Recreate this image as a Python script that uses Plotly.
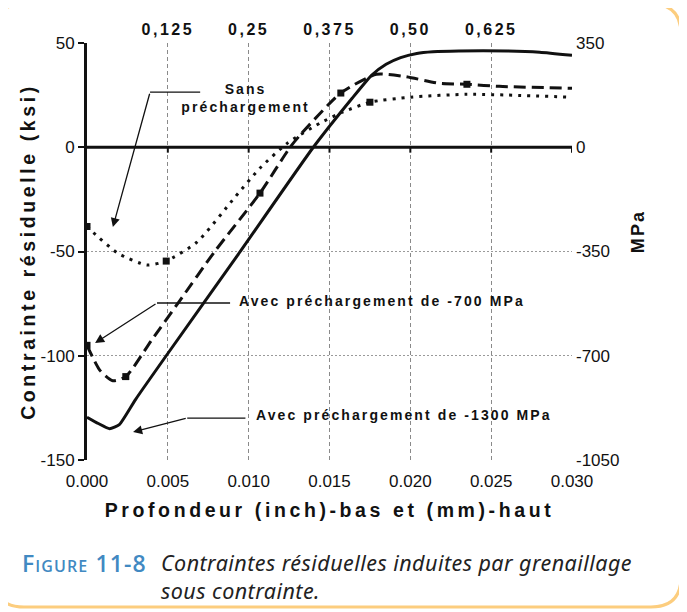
import plotly.graph_objects as go

# ---------------- data ----------------
x_ticks = [0.000, 0.005, 0.010, 0.015, 0.020, 0.025, 0.030]
x_tick_text = ["0.000", "0.005", "0.010", "0.015", "0.020", "0.025", "0.030"]
top_tick_vals = [0.005, 0.010, 0.015, 0.020, 0.025]
top_tick_text = ["0,125", "0,25", "0,375", "0,50", "0,625"]
ksi_ticks = [50, 0, -50, -100, -150]
ksi_tick_text = ["50", "0", "-50", "-100", "-150"]
mpa_tick_text = ["350", "0", "-350", "-700", "-1050"]

# Sans préchargement (dotted)
sans_x = [0.0, 0.0004, 0.0019, 0.0037, 0.0049, 0.0068, 0.0092, 0.0107, 0.0124,
          0.0144, 0.0158, 0.0175, 0.0200, 0.0235, 0.0300]
sans_y = [-38, -41, -50.8, -56.5, -54.6, -45.5, -23.5, -10, 2,
          11.5, 16.8, 21.6, 24, 25.4, 24]
sans_mark_x = [0.0, 0.0049, 0.0175]
sans_mark_y = [-38, -54.6, 21.6]

# Avec préchargement de -700 MPa (dashed)
p700_x = [0.0, 0.0008, 0.0016, 0.0024, 0.0040, 0.0057, 0.0079, 0.0107, 0.01256,
          0.0132, 0.0157, 0.0179, 0.0196, 0.0218, 0.0235, 0.0255, 0.0300]
p700_y = [-95, -107, -112, -110, -92.5, -74, -50, -22, 0,
          6, 26, 35, 34, 30.7, 30.2, 29.2, 28.3]
p700_mark_x = [0.0, 0.0024, 0.0107, 0.0157, 0.0235]
p700_mark_y = [-95, -110, -22, 26, 30.2]

# Avec préchargement de -1300 MPa (solid)
p1300_x = [0.0, 0.0007, 0.0014, 0.0020, 0.0030, 0.0049, 0.0093, 0.0140,
           0.0164, 0.0176, 0.0185, 0.0194, 0.0204, 0.0214, 0.0230, 0.0260, 0.0280, 0.0300]
p1300_y = [-129.5, -132.5, -135, -133, -121, -100, -52, 0,
           23.5, 34.5, 39.8, 43, 45, 45.8, 46.2, 46.2, 45.6, 44.1]

# ---------------- layout geometry ----------------
OFF = 8  # default page margin of the html body
W, H = 687 - OFF, 612 - OFF
ML, MT = 87 - OFF, 43 - OFF
PW, PH = 485, 417
MR, MB = W - ML - PW, H - MT - PH


def px(xp):
    """reference pixel x -> paper x"""
    return (xp - OFF - ML) / PW


def py(yp):
    """reference pixel y -> paper y"""
    return (MT + PH - (yp - OFF)) / PH


ARIAL = "Liberation Sans"
TICK_FONT = dict(family=ARIAL, size=17, color="#111")
TITLE_FONT = dict(family=ARIAL, size=19.5, color="#111", weight="bold")

fig = go.Figure()

fig.add_trace(go.Scatter(x=sans_x, y=sans_y, mode="lines",
                         line=dict(color="#111", width=3, dash="3px,6px", shape="spline", smoothing=0.6),
                         showlegend=False, hoverinfo="skip"))
fig.add_trace(go.Scatter(x=sans_mark_x, y=sans_mark_y, mode="markers",
                         marker=dict(symbol="square", size=7, color="#111"),
                         showlegend=False, hoverinfo="skip"))
fig.add_trace(go.Scatter(x=p700_x, y=p700_y, mode="lines",
                         line=dict(color="#111", width=3, dash="12px,6px", shape="spline", smoothing=0.6),
                         showlegend=False, hoverinfo="skip"))
fig.add_trace(go.Scatter(x=p700_mark_x, y=p700_mark_y, mode="markers",
                         marker=dict(symbol="square", size=7, color="#111"),
                         showlegend=False, hoverinfo="skip"))
fig.add_trace(go.Scatter(x=p1300_x, y=p1300_y, mode="lines",
                         line=dict(color="#111", width=3, shape="spline", smoothing=0.5),
                         showlegend=False, hoverinfo="skip"))
# invisible trace so the secondary (top / right) axes are drawn
fig.add_trace(go.Scatter(x=[x_ticks[0]], y=[ksi_ticks[0]], xaxis="x2", yaxis="y2",
                         mode="markers", marker=dict(opacity=0), showlegend=False, hoverinfo="skip"))

xr = [x_ticks[0], x_ticks[-1]]
yr = [ksi_ticks[-1], ksi_ticks[0]]

fig.update_layout(
    width=W, height=H,
    margin=dict(l=ML, r=MR, t=MT, b=MB, autoexpand=False),
    paper_bgcolor="white", plot_bgcolor="white",
    xaxis=dict(range=xr, tickvals=x_ticks, ticktext=x_tick_text,
               showgrid=True, gridcolor="#8a8a8a", griddash="4px,3px", gridwidth=1,
               showline=False, zeroline=False, ticks="", tickfont=TICK_FONT, ticklabelstandoff=9,
               title=dict(text="Profondeur (inch)-bas et (mm)-haut", font=TITLE_FONT, standoff=13),
               automargin=False),
    xaxis2=dict(range=xr, overlaying="x", side="top", anchor="y", tickvals=top_tick_vals,
                ticktext=top_tick_text, showgrid=False, showline=False, zeroline=False, ticks="",
                tickfont=dict(family=ARIAL, size=16, color="#111", weight="bold"), ticklabelstandoff=4,
                automargin=False),
    yaxis=dict(range=yr, tickvals=ksi_ticks, ticktext=ksi_tick_text, showgrid=True,
               gridcolor="#9a9a9a", griddash="2px,2px", gridwidth=1, showline=True,
               linecolor="#111", linewidth=3, ticks="outside", ticklen=6, tickwidth=2,
               tickcolor="#111", zeroline=False, tickfont=TICK_FONT,
               title=dict(text="Contrainte résiduelle (ksi)", font=TITLE_FONT, standoff=0),
               automargin=False),
    yaxis2=dict(range=yr, overlaying="y", side="right", anchor="x", tickvals=ksi_ticks,
                ticktext=mpa_tick_text, showgrid=False, showline=False, zeroline=False, ticks="",
                tickfont=TICK_FONT, ticklabelstandoff=3, automargin=False),
)

shapes = []
# thick zero line with downward ticks at each gridline
shapes.append(dict(type="line", xref="x", yref="y", x0=xr[0], x1=xr[1], y0=0, y1=0,
                   line=dict(color="#111", width=3)))
for v in x_ticks[1:]:
    shapes.append(dict(type="line", xref="x", yref="y", x0=v, x1=v, y0=0, y1=-2.6,
                       line=dict(color="#111", width=2)))

# leader lines (horizontal part)
leaders = [((0.0039, 26.4), (0.0070, 26.4)),
           ((0.00433, -74.7), (0.00885, -74.7)),
           ((0.0062, -129.9), (0.0098, -129.9))]
for (a, b) in leaders:
    shapes.append(dict(type="line", xref="x", yref="y", x0=a[0], y0=a[1], x1=b[0], y1=b[1],
                       line=dict(color="#111", width=1.3)))

# rounded orange frame
L, R, T, B, r = -6, 681, 4, 607, 30


def P(a, b):
    return f"{px(a):.5f},{py(b):.5f}"


path = (f"M {P(L+r, T)} L {P(R-r, T)} Q {P(R, T)} {P(R, T+r)} L {P(R, B-r)} "
        f"Q {P(R, B)} {P(R-r, B)} L {P(L+r, B)} Q {P(L, B)} {P(L, B-r)} L {P(L, T+r)} "
        f"Q {P(L, T)} {P(L+r, T)} Z")
shapes.append(dict(type="path", xref="paper", yref="paper", path=path,
                   line=dict(color="#FCCD7E", width=3), fillcolor="rgba(0,0,0,0)"))
fig.update_layout(shapes=shapes)

ann = []
arrows = [((0.0016, -38.3), (0.0039, 26.4)),
          ((0.0005, -93.9), (0.00433, -74.7)),
          ((0.00285, -136.6), (0.0062, -129.9))]
for tip, tail in arrows:
    ann.append(dict(x=tip[0], y=tip[1], ax=tail[0], ay=tail[1], xref="x", yref="y",
                    axref="x", ayref="y", text="", showarrow=True, arrowhead=2,
                    arrowsize=1.4, arrowwidth=1.3, arrowcolor="#111", standoff=0))
lab_font = dict(family=ARIAL, size=14, color="#111", weight="bold")
ann.append(dict(x=0.0098, y=23.8, xref="x", yref="y", text="Sans<br>préchargement",
                showarrow=False, font=lab_font, align="center"))
ann.append(dict(x=0.00928, y=-73.5, xref="x", yref="y", xanchor="left", align="left",
                text="Avec préchargement de -700 MPa", showarrow=False, font=lab_font))
ann.append(dict(x=0.0103, y=-128.3, xref="x", yref="y", xanchor="left", align="left",
                text="Avec préchargement de -1300 MPa", showarrow=False, font=lab_font))
# right axis title (sits above the axis middle in the reference)
ann.append(dict(x=px(650), y=py(231), xref="paper", yref="paper", text="MPa", textangle=-90,
                showarrow=False, font=dict(family=ARIAL, size=18, color="#111", weight="bold")))
# caption
ann.append(dict(x=px(20), y=py(563), xref="paper", yref="paper", xanchor="left", yanchor="middle",
                align="left", text="Figure 11-8", showarrow=False,
                font=dict(family="Open Sans", size=23, color="#4189C2",
                          weight=600, variant="small-caps")))
ann.append(dict(x=px(159), y=py(576), xref="paper", yref="paper", xanchor="left", yanchor="middle",
                align="left",
                text="Contraintes résiduelles induites par grenaillage<br>sous contrainte.",
                showarrow=False, font=dict(family="Noto Sans", size=21.5, color="#222", style="italic")))
fig.update_layout(annotations=ann)

# the reference uses tracked (letter-spaced) lettering
post = """
document.querySelectorAll('text.xtitle, text.ytitle').forEach(function(t){ t.style.letterSpacing = '3.6px'; });
document.querySelectorAll('g.x2tick text').forEach(function(t){ t.style.letterSpacing = '2.5px'; });
document.querySelectorAll('text.annotation-text').forEach(function(t){
  var f = t.style.fontFamily || '';
  if (f.indexOf('Liberation') >= 0) { t.style.letterSpacing = '2.1px'; }
  else if (f.indexOf('Open Sans') >= 0) { t.style.letterSpacing = '1.1px'; }
  else if (f.indexOf('Noto Sans') >= 0) { t.style.letterSpacing = '0.45px'; }
});
"""

fig.write_html("out.html", post_script=post)
